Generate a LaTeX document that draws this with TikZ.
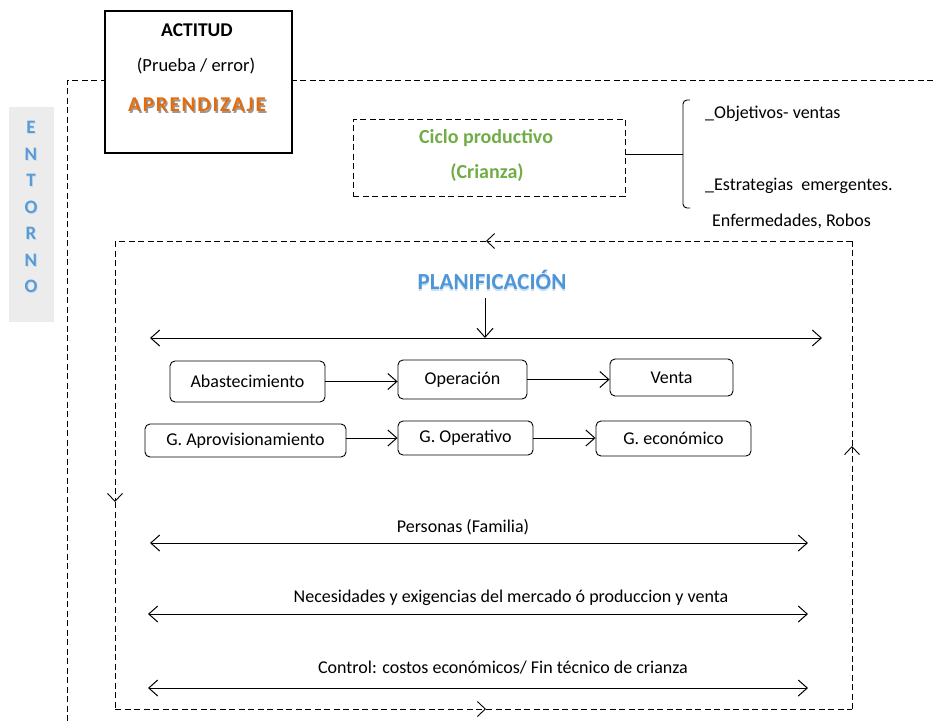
\documentclass[tikz,border=0pt]{standalone}
\usepackage{fontspec}
\setmainfont{Carlito}
\newfontfamily\spacedbold[LetterSpace=9]{Carlito}
\usetikzlibrary{arrows.meta}
\definecolor{entblue}{RGB}{91,155,213}
\definecolor{planblue}{RGB}{79,150,215}
\definecolor{aprorange}{RGB}{228,108,10}
\definecolor{cicgreen}{RGB}{112,173,71}
\definecolor{entgray}{RGB}{236,236,236}
\newcommand{\shadowtext}[4]{\makebox[0pt][l]{\hspace*{#2}\raisebox{-#3}{\textcolor{#1}{#4}}}#4}
\tikzset{
  txt/.style={inner sep=0pt, font=\fontsize{18}{21}\selectfont},
  rbox/.style={draw, line width=0.9pt, rounded corners=5pt, inner sep=0pt, font=\fontsize{18}{21}\selectfont},
  barb/.tip={Straight Barb[length=9pt,width=16pt,line width=1pt]},
  flow/.style={line width=0.9pt, -barb},
  both/.style={line width=0.9pt, barb-barb},
  dashln/.style={line width=0.8pt, dash pattern=on 6pt off 3.5pt},
  looptip/.style={dashln, -{Straight Barb[length=8pt,width=15pt,line width=0.9pt]}},
  entletter/.style={inner sep=0pt, text=entblue, font=\fontsize{19}{19}\selectfont\bfseries},
}
\begin{document}
\begin{tikzpicture}[x=1pt,y=-1pt]
\useasboundingbox (0,0) rectangle (933,721);

% surrounding environment label
\fill[entgray] (9,107) rectangle (54,322);
\foreach \ch [count=\i from 0] in {E,N,T,O,R,N,O}{
  \node[entletter] (ent\i) at (31,128+26.5*\i) {\shadowtext{entblue!35}{0.8pt}{1.2pt}{\ch}};
}

% outer dashed frame
\coordinate (otr) at (933,80);
\coordinate (otl) at (67,80);
\coordinate (obl) at (67,721);
\draw[dashln] (otr) -- (otl) -- (obl);

% attitude box
\node[draw, fill=white, line width=1.3pt, minimum width=187pt, minimum height=142pt, inner sep=0pt] (actitud) at (198.5,82) {};
\node[txt, font=\fontsize{19.5}{22}\selectfont\bfseries] (act1) at (197,30) {ACTITUD};
\node[txt, font=\fontsize{18.5}{21}\selectfont] (act2) at (196,66) {(Prueba / error)};
\node[txt, text=aprorange, font=\fontsize{21}{23}\spacedbold\bfseries] (apr) at (197,106) {\shadowtext{black!40}{1.5pt}{1.8pt}{APRENDIZAJE}};

% production cycle
\node[draw, dashln, minimum width=272pt, minimum height=77pt, inner sep=0pt] (ciclo) at (489,157.5) {};
\node[txt, text=cicgreen, font=\fontsize{20}{22}\selectfont\bfseries] (cic1) at (486,138) {Ciclo productivo};
\node[txt, text=cicgreen, font=\fontsize{20}{22}\selectfont\bfseries] (cic2) at (487,173) {(Crianza)};

% bracket with objectives
\coordinate (brm) at (683,154);
\coordinate (brt) at (690,100);
\coordinate (brb) at (690,208);
\draw[line width=0.9pt] (ciclo.east |- brm) -- (brm);
\draw[line width=0.9pt, rounded corners=4pt] (brt) -- (683,100) -- (brm) -- (683,208) -- (brb);
\node[txt, anchor=west] (obj) at (705,114) {\_Objetivos- ventas};
\node[txt, anchor=west] (est) at (705,186) {\_Estrategias\ \ emergentes.};
\node[txt, anchor=west] (enf) at (712,221) {Enfermedades, Robos};

% planning loop
\coordinate (ltr) at (852,241);
\coordinate (ltl) at (115,241);
\coordinate (lbl) at (115,709);
\coordinate (lbr) at (852,709);
\coordinate (mt) at (486,241);
\coordinate (ml) at (115,502);
\coordinate (mb) at (486,709);
\coordinate (mr) at (852,446);
\draw[looptip] (ltr) -- (mt);
\draw[dashln] (mt) -- (ltl);
\draw[looptip] (ltl) -- (ml);
\draw[dashln] (ml) -- (lbl);
\draw[looptip] (lbl) -- (mb);
\draw[dashln] (mb) -- (lbr);
\draw[looptip] (lbr) -- (mr);
\draw[dashln] (mr) -- (ltr);

% planning
\node[txt, text=planblue, font=\fontsize{23}{25}\selectfont\bfseries] (plan) at (492,281) {\shadowtext{planblue!30}{0pt}{1.5pt}{PLANIFICACIÓN}};
\coordinate (pl) at (150,338);
\coordinate (pr) at (822,338);
\coordinate (pm) at (485,338);
\coordinate (ptop) at (485,298);
\draw[both] (pl) -- (pr);
\draw[flow] (ptop) -- (pm);

% process rows
\node[rbox, minimum width=155pt, minimum height=41pt] (abas) at (247.5,381.5) {Abastecimiento};
\node[rbox, minimum width=129pt, minimum height=39pt] (oper) at (462.5,379.5) {Operación};
\node[rbox, minimum width=123pt, minimum height=37pt] (vent) at (671.5,377.5) {Venta};
\node[rbox, minimum width=201pt, minimum height=33pt] (gapr) at (245.5,440.5) {G. Aprovisionamiento};
\node[rbox, minimum width=135pt, minimum height=34pt] (gope) at (465.5,438) {G. Operativo};
\node[rbox, minimum width=155pt, minimum height=35pt] (geco) at (673.5,438.5) {G. económico};
\draw[flow] (abas.east) -- (abas.east -| oper.west);
\draw[flow] (oper.east) -- (oper.east -| vent.west);
\draw[flow] (gapr.east |- gope) -- (gope.west);
\draw[flow] (gope.east) -- (gope.east -| geco.west);

% transversal lines
\node[txt] (pers) at (463,527) {Personas (Familia)};
\coordinate (p1l) at (150,543);
\coordinate (p1r) at (808,543);
\draw[both] (p1l) -- (p1r);
\node[txt] (nece) at (511,598) {Necesidades y exigencias del mercado ó produccion y venta};
\coordinate (p2l) at (148,614);
\coordinate (p2r) at (808,614);
\draw[both] (p2l) -- (p2r);
\node[txt] (cont) at (503,668) {Control: costos económicos/ Fin técnico de crianza};
\coordinate (p3l) at (148,688);
\coordinate (p3r) at (808,688);
\draw[both] (p3l) -- (p3r);
\end{tikzpicture}
\end{document}
